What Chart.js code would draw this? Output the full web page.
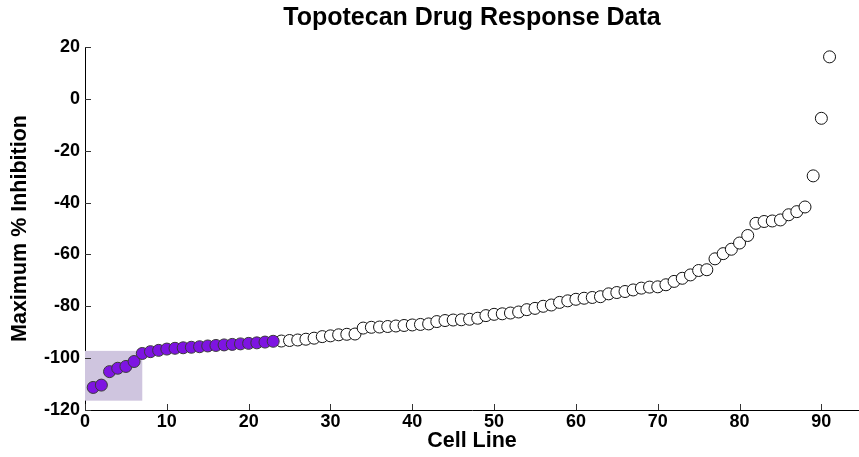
<!DOCTYPE html>
<html>
<head>
<meta charset="utf-8">
<script src="https://cdn.jsdelivr.net/npm/chart.js@4"></script>
<style>
  body { margin: 0; background: #fff; }
  #wrap { width: 859px; height: 457px; }
</style>
</head>
<body>
<div id="wrap"><canvas id="chart" width="859" height="457"></canvas></div>
<script>
"use strict";

// maximum % inhibition per cell line, sorted (cell line 1..91)
var inhibition = [
    -111.3, -110.4, -105.2, -103.9, -103.2, -101.3, -98.2, -97.5, -97.0, -96.5,
    -96.2, -96.0, -95.8, -95.6, -95.3, -95.1, -94.9, -94.7, -94.5, -94.3,
    -94.1, -93.8, -93.5, -93.4, -93.2, -93.0, -92.7, -92.3, -91.7, -91.4,
    -91.0, -90.8, -90.7, -88.4, -88.1, -88.0, -87.8, -87.6, -87.4, -87.2,
    -87.0, -86.8, -85.9, -85.5, -85.3, -85.2, -85.0, -84.6, -83.6, -83.1,
    -82.9, -82.6, -82.2, -81.3, -80.8, -80.0, -79.5, -78.5, -77.9, -77.3,
    -76.9, -76.6, -76.3, -75.2, -74.7, -74.3, -73.7, -73.0, -72.6, -72.5,
    -71.7, -70.4, -69.2, -67.9, -66.2, -65.9, -61.7, -59.7, -58.0, -55.6,
    -52.7, -48.0, -47.3, -47.1, -46.7, -44.7, -43.5, -41.7, -29.7, -7.5,
    16.2
];
var highlightCount = 23;          // first cell lines drawn in purple
var boxX = [0, 7];                // shaded region, cell line range
var boxY = [-116.4, -97.2];       // shaded region, inhibition range
var xTicks = [0, 10, 20, 30, 40, 50, 60, 70, 80, 90];
var yTicks = [-120, -100, -80, -60, -40, -20, 0, 20];

var FONT = '"Liberation Sans", Arial, Helvetica, sans-serif';

var purplePoints = [];
var whitePoints = [];
inhibition.forEach(function (v, i) {
    var p = {x: i + 1, y: v};
    if (i < highlightCount) {
        purplePoints.push(p);
    } else {
        whitePoints.push(p);
    }
});

var shadedBox = {
    id: 'shadedBox',
    beforeDatasetsDraw: function (chart) {
        var x = chart.scales.x, y = chart.scales.y, ctx = chart.ctx;
        var x0 = x.getPixelForValue(boxX[0]), x1 = x.getPixelForValue(boxX[1]);
        var y0 = y.getPixelForValue(boxY[1]), y1 = y.getPixelForValue(boxY[0]);
        ctx.save();
        ctx.fillStyle = '#cfc5df';
        ctx.fillRect(x0, y0, x1 - x0, y1 - y0);
        ctx.restore();
    }
};

// matlab style ticks, pointing into the plot
var innerTicks = {
    id: 'innerTicks',
    afterDraw: function (chart) {
        var x = chart.scales.x, y = chart.scales.y, ctx = chart.ctx;
        var area = chart.chartArea;
        ctx.save();
        ctx.strokeStyle = '#333';
        ctx.lineWidth = 1;
        ctx.beginPath();
        xTicks.forEach(function (t) {
            var px = Math.round(x.getPixelForValue(t)) + 0.5;
            ctx.moveTo(px, area.bottom);
            ctx.lineTo(px, area.bottom - 6);
        });
        yTicks.forEach(function (t) {
            var py = Math.round(y.getPixelForValue(t)) + 0.5;
            ctx.moveTo(area.left, py);
            ctx.lineTo(area.left + 6, py);
        });
        ctx.stroke();
        ctx.restore();
    }
};

new Chart(document.getElementById('chart'), {
    type: 'scatter',
    data: {
        datasets: [{
            label: 'highlighted',
            data: purplePoints,
            backgroundColor: '#7e14e2',
            borderColor: '#3a3a3a',
            borderWidth: 1,
            pointRadius: 6
        }, {
            label: 'cell lines',
            data: whitePoints,
            backgroundColor: '#ffffff',
            borderColor: '#111111',
            borderWidth: 1,
            pointRadius: 6
        }]
    },
    options: {
        responsive: false,
        animation: false,
        layout: {padding: 0, autoPadding: false},
        plugins: {
            legend: {display: false},
            tooltip: {enabled: false},
            title: {
                display: true,
                text: 'Topotecan Drug Response Data',
                fullSize: false,
                color: '#000',
                font: {family: FONT, size: 25, weight: 'bold'},
                padding: {top: 3, bottom: 14}
            }
        },
        scales: {
            x: {
                type: 'linear',
                min: 0,
                max: 94.6,
                afterBuildTicks: function (scale) {
                    scale.ticks = xTicks.map(function (v) { return {value: v}; });
                },
                afterFit: function (scale) { scale.height = 47; },
                grid: {display: false, drawTicks: false},
                border: {display: true, color: '#000', width: 1},
                ticks: {
                    color: '#000',
                    padding: 1,
                    maxRotation: 0,
                    font: {family: FONT, size: 18, weight: 'bold'}
                },
                title: {
                    display: true,
                    text: 'Cell Line',
                    color: '#000',
                    font: {family: FONT, size: 21.5, weight: 'bold'},
                    padding: {top: 0, bottom: 3}
                }
            },
            y: {
                type: 'linear',
                min: -120,
                max: 20,
                afterBuildTicks: function (scale) {
                    scale.ticks = yTicks.map(function (v) { return {value: v}; });
                },
                afterFit: function (scale) { scale.width = 85; },
                grid: {display: false, drawTicks: false},
                border: {display: true, color: '#000', width: 1},
                ticks: {
                    color: '#000',
                    padding: 5,
                    font: {family: FONT, size: 18, weight: 'bold'}
                },
                title: {
                    display: true,
                    text: 'Maximum % Inhibition',
                    color: '#000',
                    font: {family: FONT, size: 21.5, weight: 'bold'},
                    padding: {top: 7.6, bottom: 0}
                }
            }
        }
    },
    plugins: [shadedBox, innerTicks]
});
</script>
</body>
</html>
